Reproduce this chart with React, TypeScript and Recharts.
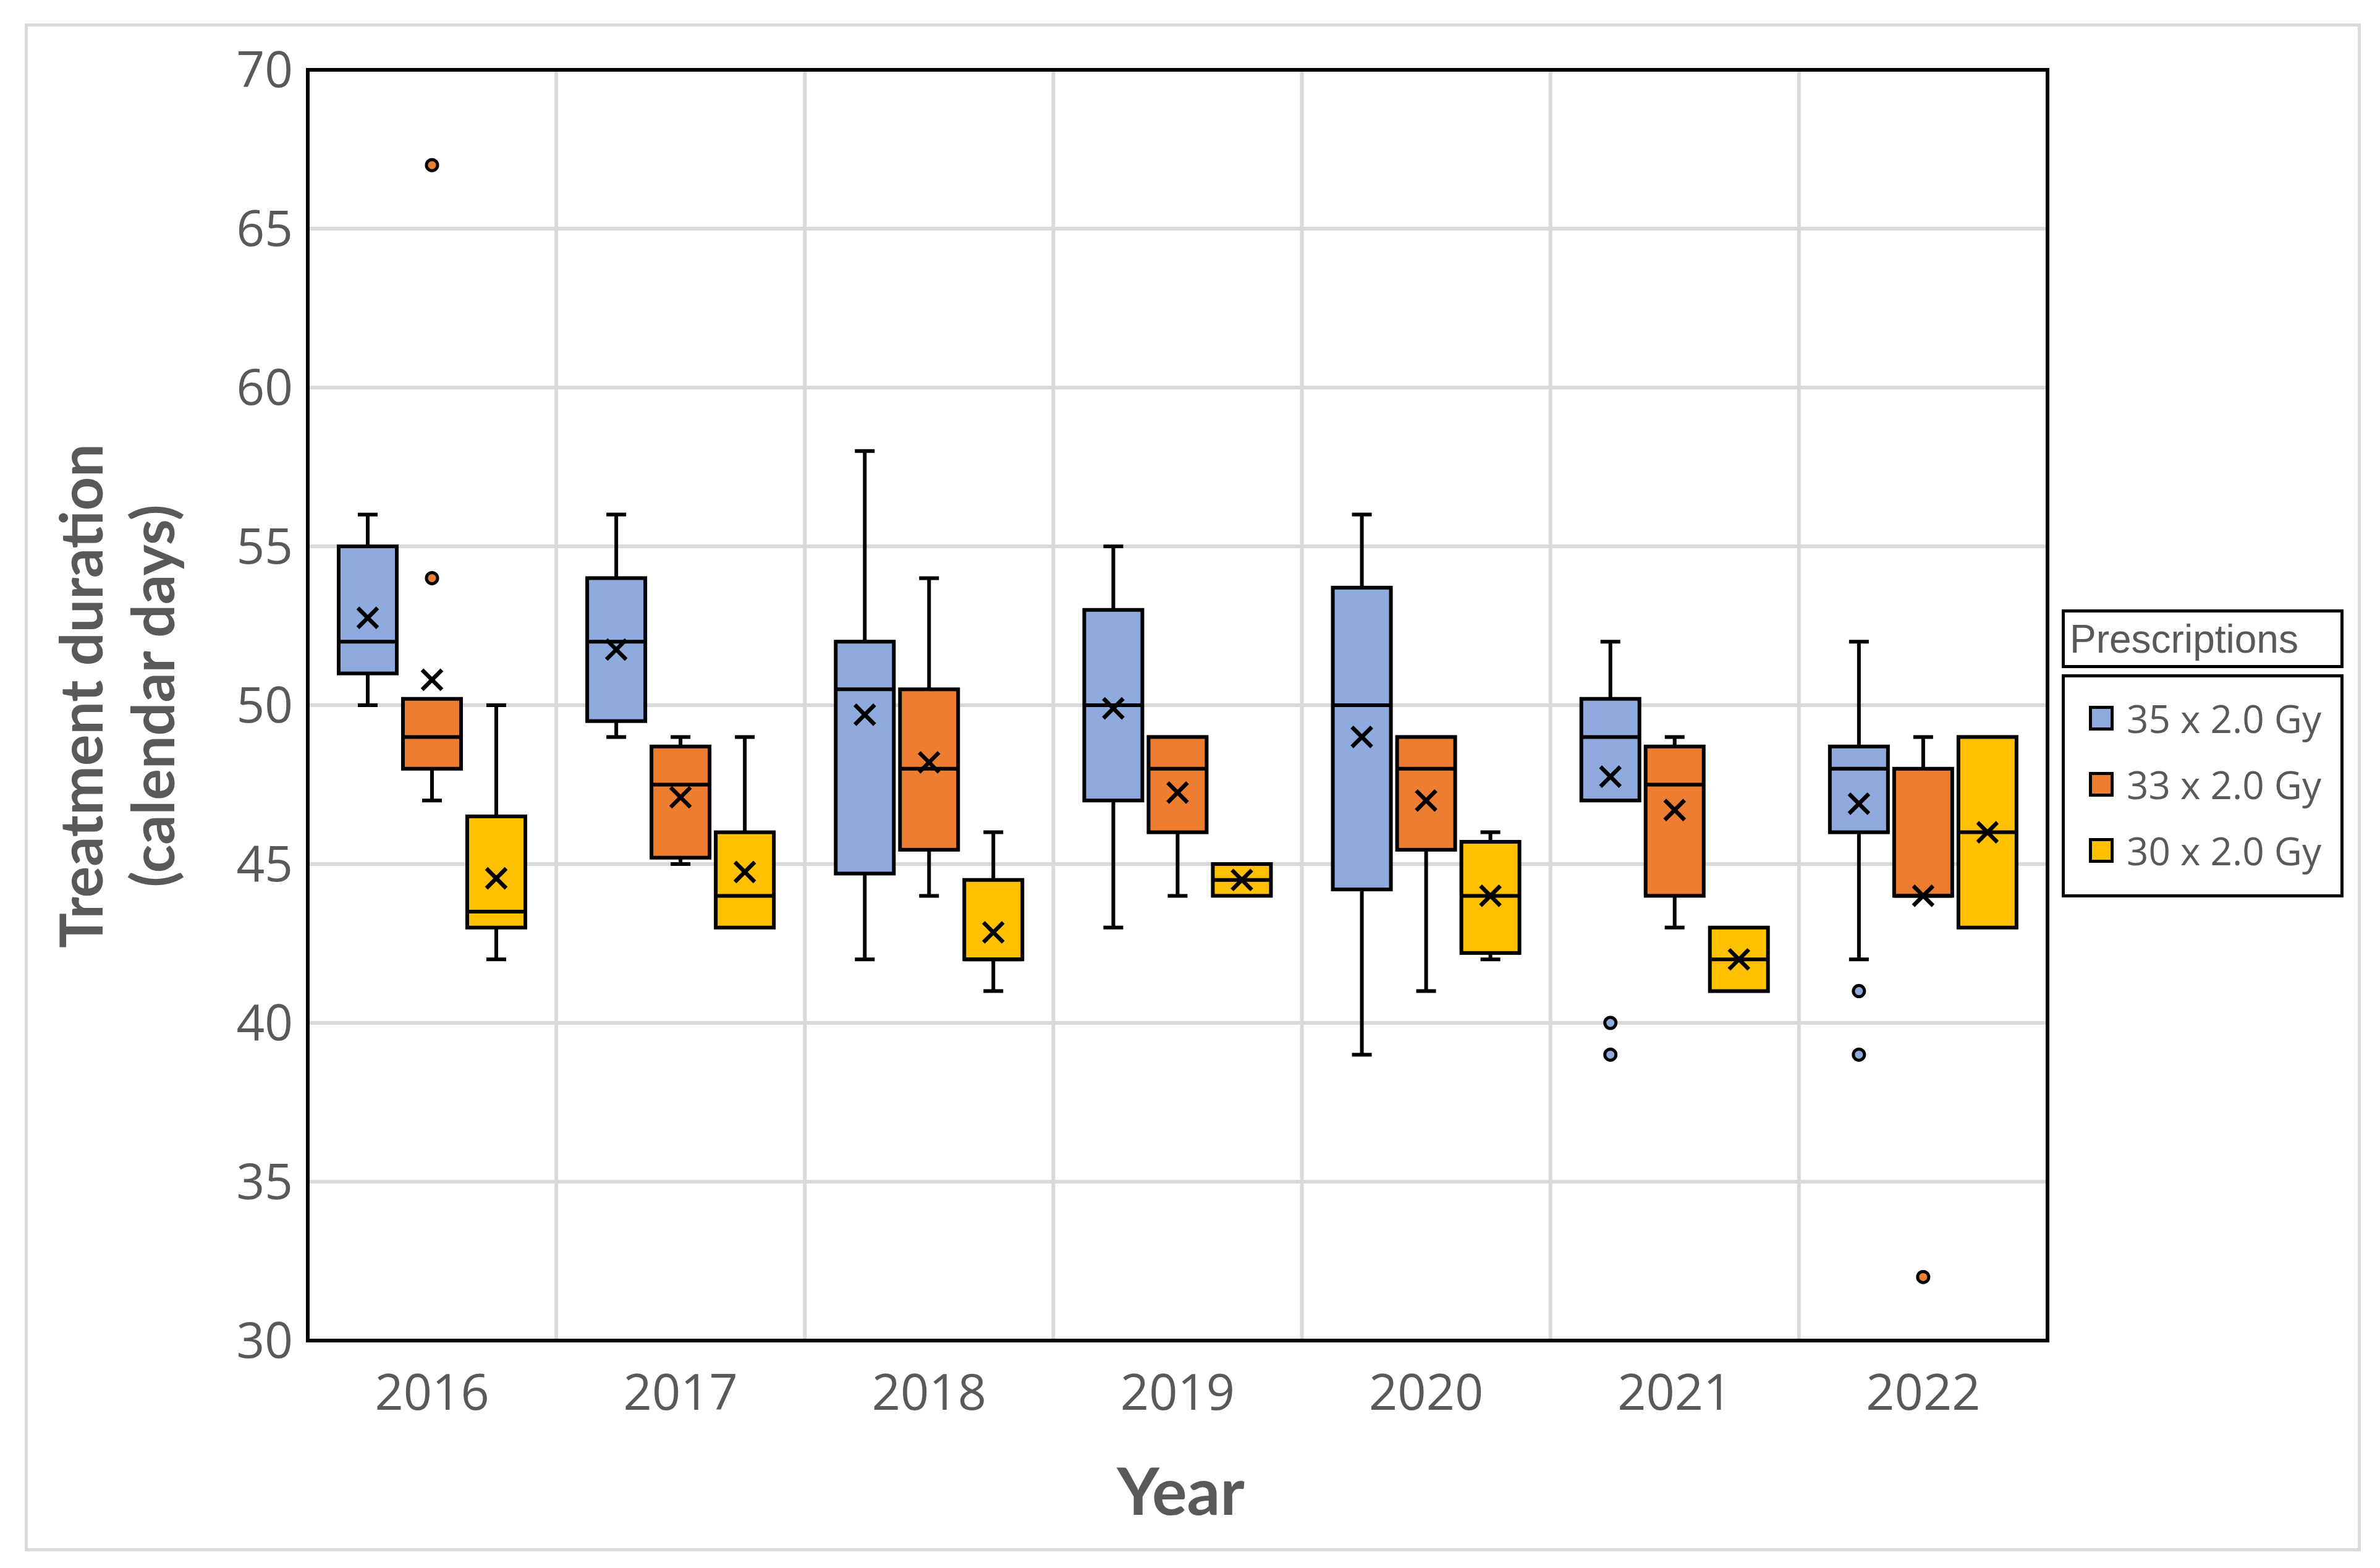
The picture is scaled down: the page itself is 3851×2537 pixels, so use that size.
import React from 'react';
import { BarChart, Bar, XAxis, YAxis, CartesianGrid, Legend, ReferenceArea } from 'recharts';

const years = ['2016', '2017', '2018', '2019', '2020', '2021', '2022'];
const seriesNames = ['35 x 2.0 Gy', '33 x 2.0 Gy', '30 x 2.0 Gy'];
const seriesColors = ['#8FAADC', '#ED7D31', '#FFC000'];
const yTicks = [30, 35, 40, 45, 50, 55, 60, 65, 70];

// 35 x 2.0 Gy
const low35 = [50, 49, 42, 43, 39, 47, 42];
const q1_35 = [51, 49.5, 44.7, 47, 44.2, 47, 46];
const med35 = [52, 52, 50.5, 50, 50, 49, 48];
const q3_35 = [55, 54, 52, 53, 53.7, 50.2, 48.7];
const high35 = [56, 56, 58, 55, 56, 52, 52];
const mean35 = [52.75, 51.75, 49.7, 49.9, 49, 47.75, 46.9];
const out35 = [[], [], [], [], [], [40, 39], [41, 39]];

// 33 x 2.0 Gy
const low33 = [47, 45, 44, 44, 41, 43, 44];
const q1_33 = [48, 45.2, 45.45, 46, 45.45, 44, 44];
const med33 = [49, 47.5, 48, 48, 48, 47.5, 44];
const q3_33 = [50.2, 48.7, 50.5, 49, 49, 48.7, 48];
const high33 = [50.2, 49, 54, 49, 49, 49, 49];
const mean33 = [50.8, 47.1, 48.2, 47.25, 47, 46.7, 44];
const out33 = [[54, 67], [], [], [], [], [], [32]];

// 30 x 2.0 Gy
const low30 = [42, 43, 41, 44, 42, 41, 43];
const q1_30 = [43, 43, 42, 44, 42.2, 41, 43];
const med30 = [43.5, 44, 42, 44.5, 44, 42, 46];
const q3_30 = [46.5, 46, 44.5, 45, 45.7, 43, 49];
const high30 = [50, 49, 46, 45, 46, 43, 49];
const mean30 = [44.55, 44.75, 42.85, 44.5, 44, 42, 46];
const out30 = [[], [], [], [], [], [], []];

const seriesStats = [
  { low: low35, q1: q1_35, med: med35, q3: q3_35, high: high35, mean: mean35, out: out35 },
  { low: low33, q1: q1_33, med: med33, q3: q3_33, high: high33, mean: mean33, out: out33 },
  { low: low30, q1: q1_30, med: med30, q3: q3_30, high: high30, mean: mean30, out: out30 },
];

const data = years.map((year, i) => {
  const row: any = { year };
  seriesStats.forEach((s, k) => {
    row[`s${k}`] = {
      low: s.low[i], q1: s.q1[i], med: s.med[i], q3: s.q3[i],
      high: s.high[i], mean: s.mean[i], out: s.out[i],
    };
  });
  return row;
});

const TEXT = '#595959';
const GRID = '#D9D9D9';
const SW = 6;

const makeBoxShape = (k: number) => (props: any) => {
  const { x, y, width, height, payload } = props;
  const st = payload[`s${k}`];
  const top = Math.min(y, y + height);
  const h = Math.abs(height);
  // linear map from the bar's own range back to pixels
  const py = (v: number) => top + ((st.high - v) / (st.high - st.low)) * h;
  const cx = x + width / 2;
  const cap = 16;
  const m = 16;
  const color = seriesColors[k];
  return (
    <g>
      {st.high > st.q3 && (
        <g stroke="#000" strokeWidth={SW}>
          <line x1={cx} x2={cx} y1={py(st.high)} y2={py(st.q3)} />
          <line x1={cx - cap} x2={cx + cap} y1={py(st.high)} y2={py(st.high)} />
        </g>
      )}
      {st.low < st.q1 && (
        <g stroke="#000" strokeWidth={SW}>
          <line x1={cx} x2={cx} y1={py(st.q1)} y2={py(st.low)} />
          <line x1={cx - cap} x2={cx + cap} y1={py(st.low)} y2={py(st.low)} />
        </g>
      )}
      <rect
        x={x + SW / 2}
        y={py(st.q3)}
        width={width - SW}
        height={py(st.q1) - py(st.q3)}
        fill={color}
        stroke="#000"
        strokeWidth={SW}
      />
      <line x1={x + SW / 2} x2={x + width - SW / 2} y1={py(st.med)} y2={py(st.med)} stroke="#000" strokeWidth={SW} />
      <g stroke="#000" strokeWidth={6.5}>
        <line x1={cx - m} x2={cx + m} y1={py(st.mean) - m} y2={py(st.mean) + m} />
        <line x1={cx - m} x2={cx + m} y1={py(st.mean) + m} y2={py(st.mean) - m} />
      </g>
      {st.out.map((v: number, j: number) => (
        <circle key={j} cx={cx} cy={py(v)} r={9} fill={color} stroke="#000" strokeWidth={5} />
      ))}
    </g>
  );
};

const YTitle = (props: any) => {
  const vb = props.viewBox;
  const cy = vb.y + vb.height / 2 - 15;
  const style = { fontFamily: 'Lato', fontWeight: 700, fontSize: 95, fill: TEXT };
  return (
    <g>
      <text x={166} y={cy} transform={`rotate(-90, 166, ${cy})`} textAnchor="middle" style={style}>
        Treatment duration
      </text>
      <text x={282} y={cy} transform={`rotate(-90, 282, ${cy})`} textAnchor="middle" style={style}>
        (calendar days)
      </text>
    </g>
  );
};

const XTitle = (props: any) => {
  const vb = props.viewBox;
  return (
    <text
      x={vb.x + vb.width / 2 + 5}
      y={vb.y + 282}
      textAnchor="middle"
      style={{ fontFamily: 'Lato', fontWeight: 700, fontSize: 106, fill: TEXT }}
    >
      Year
    </text>
  );
};

const LegendBox = () => (
  <div style={{ width: 456 }}>
    <div
      style={{
        boxSizing: 'border-box',
        height: 95,
        border: '5px solid #000',
        paddingLeft: 8,
        display: 'flex',
        alignItems: 'center',
        fontFamily: '"Liberation Sans", Arial, sans-serif',
        fontSize: 64,
        color: TEXT,
      }}
    >
      Prescriptions
    </div>
    <div
      style={{
        boxSizing: 'border-box',
        marginTop: 10,
        height: 361,
        border: '5px solid #000',
        paddingTop: 12,
      }}
    >
      {seriesNames.map((name, k) => (
        <div key={name} style={{ height: 107, display: 'flex', alignItems: 'center', paddingLeft: 39 }}>
          <div
            style={{
              boxSizing: 'border-box',
              width: 40,
              height: 40,
              background: seriesColors[k],
              border: '5px solid #000',
              marginRight: 21,
            }}
          />
          <span style={{ fontFamily: '"Open Sans"', fontSize: 62, color: TEXT, whiteSpace: 'nowrap' }}>{name}</span>
        </div>
      ))}
    </div>
  </div>
);

export default function App() {
  return (
    <div style={{ position: 'relative', width: 3851, height: 2537, background: '#fff' }}>
      <style>{'body{margin:0}'}</style>
      <div
        style={{
          position: 'absolute',
          left: 40,
          top: 38,
          width: 3780,
          height: 2472,
          boxSizing: 'border-box',
          border: `5px solid ${GRID}`,
        }}
      />
      <div style={{ position: 'absolute', left: 0, top: 0 }}>
        <BarChart
          width={3851}
          height={2537}
          data={data}
          margin={{ top: 113, right: 538, bottom: 0, left: 0 }}
          barSize={100}
          barGap={4}
        >
          <CartesianGrid
            stroke={GRID}
            strokeWidth={SW}
            verticalCoordinatesGenerator={({ offset }: any) =>
              years.slice(1).map((_, i) => offset.left + ((i + 1) * offset.width) / years.length)
            }
          />
          <XAxis
            dataKey="year"
            height={368}
            axisLine={false}
            tickLine={false}
            tickSize={0}
            tickMargin={54}
            tick={{ fill: TEXT, fontSize: 81, fontFamily: 'Open Sans' }}
            label={XTitle}
          />
          <YAxis
            width={498}
            domain={[30, 70]}
            ticks={yTicks}
            allowDataOverflow
            axisLine={false}
            tickLine={false}
            tickSize={0}
            tickMargin={24}
            tick={{ fill: TEXT, fontSize: 80, fontFamily: 'Open Sans' }}
            label={YTitle}
          />
          <ReferenceArea y1={30} y2={70} fill="none" stroke="#000" strokeWidth={SW} ifOverflow="visible" />
          {seriesNames.map((name, k) => (
            <Bar
              key={name}
              name={name}
              dataKey={(d: any) => [d[`s${k}`].low, d[`s${k}`].high]}
              fill={seriesColors[k]}
              shape={makeBoxShape(k)}
              isAnimationActive={false}
            />
          ))}
          <Legend
            layout="vertical"
            align="center"
            verticalAlign="middle"
            content={LegendBox}
            wrapperStyle={{ left: 3336, top: 986, width: 456 }}
          />
        </BarChart>
      </div>
    </div>
  );
}
